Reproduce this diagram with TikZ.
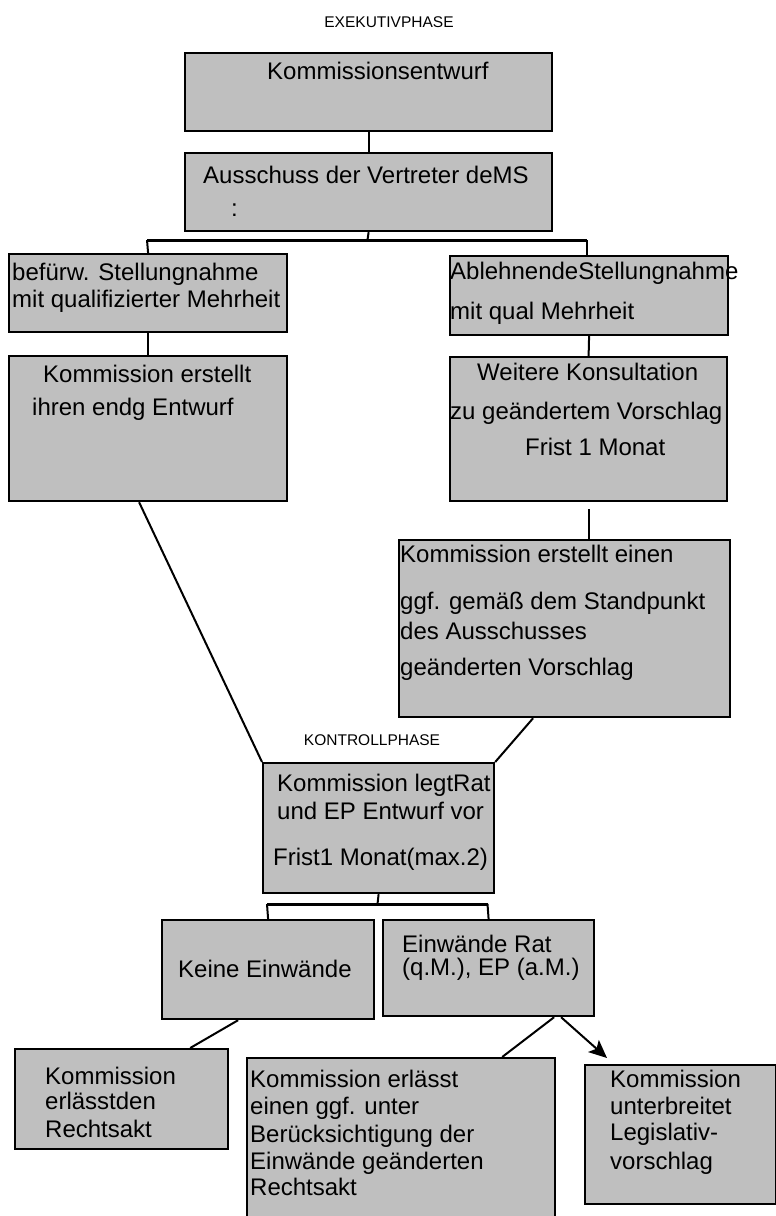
\documentclass[tikz,border=0pt]{standalone}
\usepackage{fontspec}
\setmainfont{Liberation Sans}
\usepackage{tikz}
\usetikzlibrary{arrows.meta}
\definecolor{boxgray}{gray}{0.75}

\begin{document}
\begin{tikzpicture}[x=1pt,y=-1pt]
\tikzstyle{box}=[draw,fill=boxgray,line width=2.2pt,anchor=north west,inner sep=0pt]
\tikzstyle{txt}=[anchor=base west,inner sep=0pt,font=\fontsize{24}{28}\selectfont]
\tikzstyle{phase}=[anchor=base,inner sep=0pt,font=\fontsize{15.5}{18}\selectfont]
\tikzstyle{con}=[line width=2pt]
\tikzstyle{bar}=[line width=3pt]

\useasboundingbox (0,0) rectangle (776,1216);
\clip (0,0) rectangle (776,1216);

% Exekutivphase
\node[phase] (exek) at (389,27) {EXEKUTIVPHASE};

\node[box,minimum width=367pt,minimum height=78pt] (kentwurf) at (184,52) {};
\node[txt] (kentwurf1) at (267,79) {Kommissionsentwurf};

\node[box,minimum width=367pt,minimum height=78pt] (ausschuss) at (184,152) {};
\node[txt] (ausschuss1) at (203,183) {Ausschuss der Vertreter deMS};
\node[txt] (ausschuss2) at (231,216) {:};

\node[box,minimum width=278pt,minimum height=78pt] (befuerw) at (8,253) {};
\node[txt] (befuerw1) at (12,280) {befürw. Stellungnahme};
\node[txt] (befuerw2) at (12,307) {mit qualifizierter Mehrheit};

\node[box,minimum width=278pt,minimum height=79pt] (ablehn) at (449,255) {};
\node[txt] (ablehn1) at (450,279) {AblehnendeStellungnahme};
\node[txt] (ablehn2) at (450,319) {mit qual Mehrheit};

\node[box,minimum width=278pt,minimum height=145pt] (endg) at (8,355) {};
\node[txt] (endg1) at (43,382) {Kommission erstellt};
\node[txt] (endg2) at (32,415) {ihren endg Entwurf};

\node[box,minimum width=277pt,minimum height=144pt] (konsult) at (449,356) {};
\node[txt] (konsult1) at (477,380) {Weitere Konsultation};
\node[txt] (konsult2) at (450,419) {zu geändertem Vorschlag};
\node[txt] (konsult3) at (525,455) {Frist 1 Monat};

\node[box,minimum width=331pt,minimum height=177pt] (geaend) at (398,539) {};
\node[txt] (geaend1) at (400,562) {Kommission erstellt einen};
\node[txt] (geaend2) at (400,609) {ggf. gemäß dem Standpunkt};
\node[txt] (geaend3) at (400,639) {des Ausschusses};
\node[txt] (geaend4) at (400,675) {geänderten Vorschlag};

% Kontrollphase
\node[phase] (kontr) at (372,745) {KONTROLLPHASE};

\node[box,minimum width=231pt,minimum height=130pt] (vorlage) at (262,762) {};
\node[txt] (vorlage1) at (277,791) {Kommission legtRat};
\node[txt] (vorlage2) at (277,819) {und EP Entwurf vor};
\node[txt] (vorlage3) at (273,865) {Frist1 Monat(max.2)};

\node[box,minimum width=212pt,minimum height=99pt] (keine) at (161,919) {};
\node[txt] (keine1) at (178,977) {Keine Einwände};

\node[box,minimum width=211pt,minimum height=96pt] (einw) at (382,919) {};
\node[txt] (einw1) at (402,952) {Einwände Rat};
\node[txt] (einw2) at (402,975) {(q.M.), EP (a.M.)};

\node[box,minimum width=213pt,minimum height=100pt] (erlass) at (14,1048) {};
\node[txt] (erlass1) at (45,1084) {Kommission};
\node[txt] (erlass2) at (45,1109) {erlässtden};
\node[txt] (erlass3) at (45,1137) {Rechtsakt};

\node[box,minimum width=308pt,minimum height=178pt] (rechtsakt) at (246,1057) {};
\node[txt] (rechtsakt1) at (250,1087) {Kommission erlässt};
\node[txt] (rechtsakt2) at (250,1114) {einen ggf. unter};
\node[txt] (rechtsakt3) at (250,1142) {Berücksichtigung der};
\node[txt] (rechtsakt4) at (250,1169) {Einwände geänderten};
\node[txt] (rechtsakt5) at (250,1195) {Rechtsakt};

\node[box,minimum width=191pt,minimum height=139pt] (legis) at (584,1064) {};
\node[txt] (legis1) at (610,1087) {Kommission};
\node[txt] (legis2) at (610,1114) {unterbreitet};
\node[txt] (legis3) at (610,1140) {Legislativ-};
\node[txt] (legis4) at (610,1169) {vorschlag};

% connectors
\coordinate (barA) at (367.5,240);
\coordinate (barAl) at (147,240);
\coordinate (barAr) at (587,240);
\coordinate (barB) at (377.5,904);
\coordinate (barBl) at (267,904);
\coordinate (barBr) at (487.5,904);

\draw[con] (kentwurf.south) -- (ausschuss.north);
\draw[con] (ausschuss.south) -- (barA);
\draw[bar] (barAl) -- (barAr);
\draw[con] (barAl) -- (befuerw.north);
\draw[con] (barAr) -- (barAr |- ablehn.north);
\draw[con] (befuerw.south) -- (endg.north);
\draw[con] (ablehn.south) -- (konsult.north);
\draw[con] ([yshift=-7pt]konsult.south) -- (konsult.south |- geaend.north);
\draw[con] ([xshift=-9pt]endg.south) -- (vorlage.north west);
\draw[con] ([xshift=-31.5pt]geaend.south) -- (vorlage.north east);
\draw[con] (vorlage.south) -- (barB);
\draw[bar] (barBl) -- (barBr);
\draw[con] (barBl) -- (keine.north);
\draw[con] (barBr) -- (einw.north);
\draw[con] ([xshift=-30pt]keine.south) -- ([xshift=-39pt]erlass.north east);
\draw[con] ([xshift=65.5pt]einw.south) -- ([xshift=-54pt]rechtsakt.north east);
\draw[con,-{Stealth[length=18pt,width=16pt,inset=4pt]}] ([xshift=72.5pt]einw.south) -- ([xshift=23pt,yshift=6pt]legis.north west);

\end{tikzpicture}
\end{document}
